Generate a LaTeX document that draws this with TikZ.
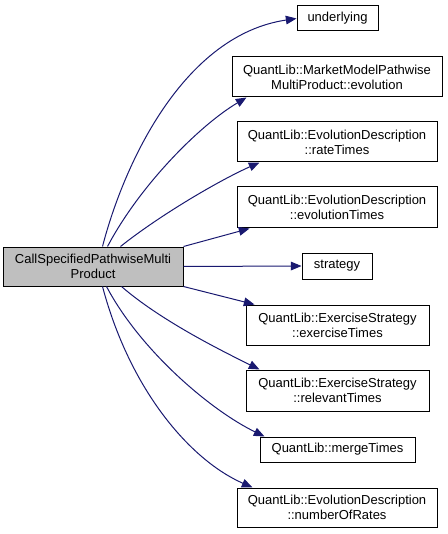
\documentclass[tikz,border=0pt]{standalone}
\usepackage{fontspec}
\setmainfont{Liberation Sans}
\usetikzlibrary{arrows.meta,calc}
\definecolor{edgeblue}{HTML}{191970}
\definecolor{mainfill}{HTML}{BFBFBF}
\tikzset{
  box/.style={draw=black,line width=0.75pt,fill=white,inner sep=0pt,align=center,font=\fontsize{9.75}{11.25}\selectfont},
  mainbox/.style={box,fill=mainfill},
  edge/.style={draw=edgeblue,line width=0.75pt,-{Triangle[length=8pt,width=6.5pt]}}
}
\begin{document}
\begin{tikzpicture}[x=0.75pt,y=-0.75pt]
\useasboundingbox (0,0) rectangle (448,534);
\node[mainbox,minimum width=135pt,minimum height=29.25pt] (main) at (93,266.5) {CallSpecifiedPathwiseMulti\\Product};
\node[box,minimum width=60.75pt,minimum height=18.75pt] (und) at (337.5,18.5) {underlying};
\node[box,minimum width=157.5pt,minimum height=30pt] (mkt) at (337,77) {QuantLib::MarketModelPathwise\\MultiProduct::evolution};
\node[box,minimum width=150pt,minimum height=30pt] (rate) at (337,142) {QuantLib::EvolutionDescription\\::rateTimes};
\node[box,minimum width=150pt,minimum height=30.75pt] (evo) at (337,207.5) {QuantLib::EvolutionDescription\\::evolutionTimes};
\node[box,minimum width=52.5pt,minimum height=19.5pt] (strat) at (337,266) {strategy};
\node[box,minimum width=137.25pt,minimum height=30pt] (exer) at (337.5,325) {QuantLib::ExerciseStrategy\\::exerciseTimes};
\node[box,minimum width=137.25pt,minimum height=30.75pt] (rel) at (337.5,390.5) {QuantLib::ExerciseStrategy\\::relevantTimes};
\node[box,minimum width=116.25pt,minimum height=18.75pt] (merge) at (337.5,449.5) {QuantLib::mergeTimes};
\node[box,minimum width=150pt,minimum height=29.25pt] (nrates) at (337,507.5) {QuantLib::EvolutionDescription\\::numberOfRates};

\draw[edge] ($(main.north west)+(100,0)$) .. controls (125,160) and (185,35) .. (und.west);
\draw[edge] ($(main.north west)+(105,0)$) .. controls (140,185) and (200,125) .. ($(mkt.south west)+(15,0)$);
\draw[edge] ($(main.north west)+(118,0)$) .. controls (160,215) and (220,180) .. ($(rate.south west)+(23,0)$);
\draw[edge] (main.north east) -- ($(evo.south west)+(13,0)$);
\draw[edge] (main.east) -- (strat.west);
\draw[edge] (main.south east) -- ($(exer.north west)+(9,0)$);
\draw[edge] ($(main.south west)+(119,0)$) .. controls (160,320) and (220,350) .. ($(rel.north west)+(14,0)$);
\draw[edge] ($(main.south west)+(104,0)$) .. controls (140,350) and (210,410) .. ($(merge.north west)+(5,0)$);
\draw[edge] ($(main.south west)+(100,0)$) .. controls (130,390) and (190,460) .. ($(nrates.north west)+(16,0)$);
\end{tikzpicture}
\end{document}
